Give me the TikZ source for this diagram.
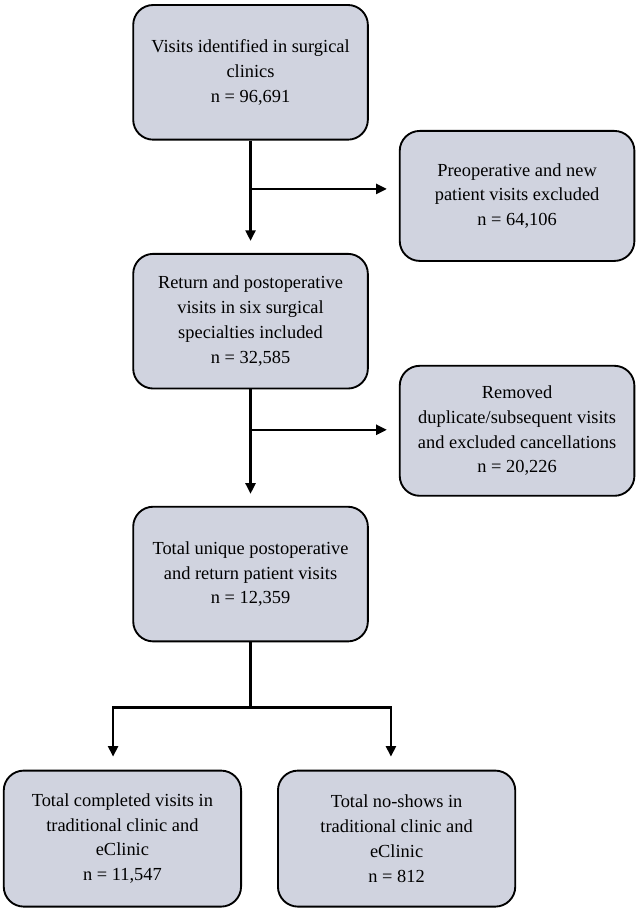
\documentclass[tikz,border=0pt]{standalone}
\usepackage{fontspec}
\setmainfont{Liberation Serif}
\usepackage{tikz}
\usetikzlibrary{positioning,arrows.meta}

\definecolor{boxgray}{RGB}{208,211,223}
\tikzset{
  box/.style={draw, line width=1.4pt, fill=boxgray, rounded corners=15pt,
    align=center, inner sep=0pt, minimum width=176pt, minimum height=101pt,
    font=\fontsize{13.8}{18.6}\selectfont},
  sidebox/.style={box, minimum height=97.5pt},
  endbox/.style={box, minimum width=178pt, minimum height=102pt},
  flow/.style={line width=1.8pt, -{Triangle[length=8pt,width=7.5pt]}},
}

\begin{document}
\begin{tikzpicture}
    \useasboundingbox (0,0) rectangle (480pt,-681.75pt);

    % Define nodes
    \node[box] (visits) at (187.9pt,-54.25pt) {Visits identified in surgical\\clinics\\n = 96,691};
    \node[sidebox, below right = 43.25pt and 22.5pt of visits.east] (preop) {Preoperative and new\\patient visits excluded\\n = 64,106};
    \node[box, below = 84.25pt of visits] (ret) {Return and postoperative\\visits in six surgical\\specialties included\\n = 32,585};
    \node[sidebox, below right = 32.75pt and 22.5pt of ret.east] (dup) {Removed\\duplicate/subsequent visits\\and excluded cancellations\\n = 20,226};
    \node[box, below = 87.25pt of ret] (uniq) {Total unique postoperative\\and return patient visits\\n = 12,359};
    \node[endbox, below left = 95.5pt and 6.4pt of uniq.south] (done) {Total completed visits in\\traditional clinic and\\eClinic\\n = 11,547};
    \node[endbox, below right = 95.5pt and 19.85pt of uniq.south] (noshow) {Total no-shows in\\traditional clinic and\\eClinic\\n = 812};

    % Branch points
    \coordinate[below = 36.25pt of visits.south] (j1);
    \coordinate[below = 30.25pt of ret.south] (j2);
    \coordinate[below = 49pt of uniq.south] (j3);

    % Connect nodes
    \draw[flow, shorten >=9pt] (visits) -- (ret);
    \draw[flow, shorten >=9pt] (j1) -- (j1 -| preop.west);
    \draw[flow, shorten >=9pt] (ret) -- (uniq);
    \draw[flow, shorten >=9pt] (j2) -- (j2 -| dup.west);
    \draw[line width=1.8pt] (uniq) -- (j3);
    \draw[flow, shorten >=9.75pt] (j3) -| ([xshift=-7pt]done.north);
    \draw[flow, shorten >=9.75pt] (j3) -| ([xshift=-4.25pt]noshow.north);
\end{tikzpicture}
\end{document}
